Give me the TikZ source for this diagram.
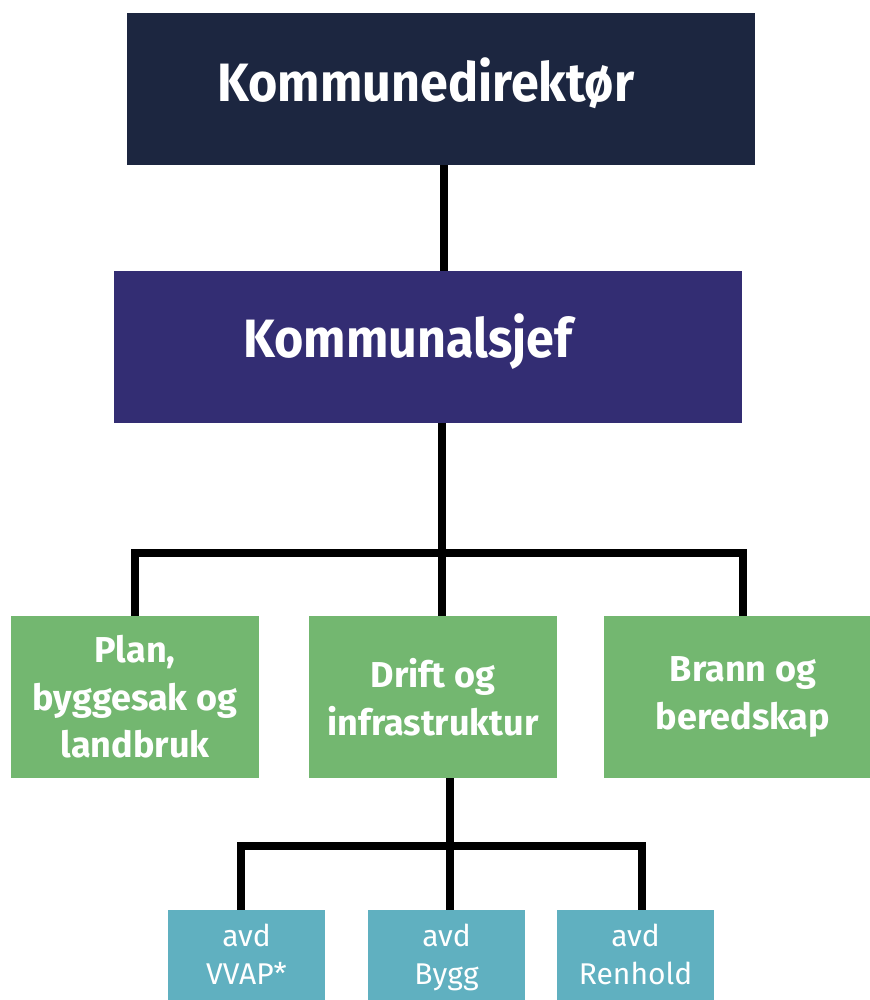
\documentclass[tikz,border=0pt]{standalone}
\usepackage{fontspec}
\setmainfont{Fira Sans}
\newfontfamily\headfont[FakeStretch=0.93]{Fira Sans}
\usetikzlibrary{positioning}

\definecolor{navyblue}{RGB}{28,38,64}
\definecolor{darkpurple}{RGB}{51,45,115}
\definecolor{unitgreen}{RGB}{115,183,112}
\definecolor{deptteal}{RGB}{96,176,192}

\tikzset{
    orgbox/.style={rectangle, inner sep=0pt, text=white, align=center},
    headbox/.style={orgbox, minimum width=628pt, minimum height=152pt},
    headtext/.style={text=white, font=\headfont\fontsize{54}{66}\selectfont\bfseries},
    unitbox/.style={orgbox, fill=unitgreen, minimum width=248pt, minimum height=162pt,
        font=\fontsize{36}{47.5}\selectfont\bfseries},
    deptbox/.style={orgbox, fill=deptteal, minimum width=157pt, minimum height=100pt,
        font=\fontsize{30}{38}\selectfont},
    link/.style={line width=8.5pt, line join=miter}
}

\begin{document}
\begin{tikzpicture}[x=1pt, y=-1pt]

    \useasboundingbox (0,0) rectangle (869,1000);

    % 1. ledelse
    \node[headbox, fill=navyblue,
        label={[headtext, xshift=-14.5pt, yshift=6pt]center:Kommunedirektør}] (dir) at (440.5,89) {};
    \node[headbox, fill=darkpurple,
        label={[headtext, xshift=-20pt, yshift=5pt]center:Kommunalsjef}] (sjef) at (428,347) {};

    % 2. enheter
    \node[unitbox] (plan) at (135,697) {Plan,\\byggesak og\\landbruk};
    \node[unitbox] (drift) at (433,697) {Drift og\\infrastruktur};
    \node[unitbox, minimum width=278pt] (brann) at (743,697) {Brann og\\beredskap};

    % 3. avdelinger under drift
    \node[deptbox] (vvap) at (246.5,960) {avd\\VVAP*\strut};
    \node[deptbox] (bygg) at (446.5,960) {avd\\Bygg\strut};
    \node[deptbox] (renhold) at (635.5,960) {avd\\Renhold\strut};

    % 4. linjer
    \coordinate (trunk) at (444,0);
    \coordinate (bus1) at (442,553);
    \coordinate (bus2) at (450,846);
    \coordinate (left2) at (241,0);
    \coordinate (right2) at (642,0);

    \draw[link] (dir.south -| trunk) -- (sjef.north -| trunk);
    \draw[link] (sjef.south -| bus1) -- (bus1);
    \draw[link] (plan.north) |- (bus1) -| (brann.north);
    \draw[link] (bus1) -- (drift.north -| bus1);

    \draw[link] (drift.south -| bus2) -- (bus2);
    \draw[link] (vvap.north -| left2) |- (bus2) -| (renhold.north -| right2);
    \draw[link] (bus2) -- (bygg.north -| bus2);

\end{tikzpicture}
\end{document}
